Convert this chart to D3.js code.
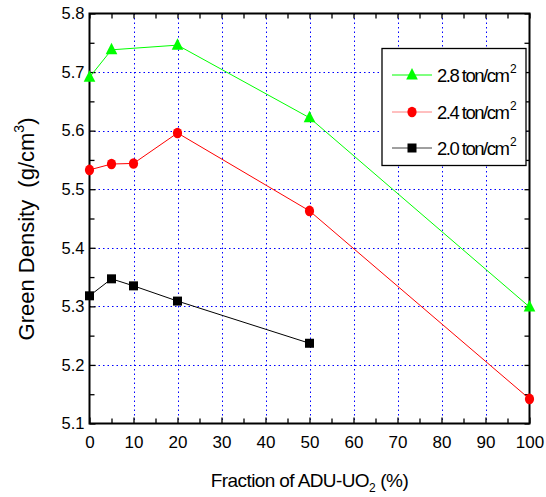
<!DOCTYPE html>
<html>
<head>
<meta charset="utf-8">
<script src="https://cdn.jsdelivr.net/npm/d3@7"></script>
<style>
  html, body { margin: 0; padding: 0; background: #fff; }
  svg { display: block; font-family: "Liberation Sans", Arial, sans-serif; }
</style>
</head>
<body>
<svg id="chart" width="546" height="497"></svg>
<script>
// Fraction of ADU-UO2 (%) at which green density was measured
const fractions = [0, 5, 10, 20, 50, 100];
const fractionsLow = [0, 5, 10, 20, 50];

// Green density (g/cm3) per compaction pressure
const density28 = [5.691, 5.738, null, 5.746, 5.622, 5.299];
const density24 = [5.533, 5.543, 5.544, 5.596, 5.463, 5.142];
const density20 = [5.318, 5.347, 5.335, 5.309, 5.237];

const xTicks = [0, 10, 20, 30, 40, 50, 60, 70, 80, 90, 100];
const yTicks = [5.1, 5.2, 5.3, 5.4, 5.5, 5.6, 5.7, 5.8];

const seriesNames = ["2.8", "2.4", "2.0"];

const svg = d3.select("#chart");
const L = 89.5, R = 529.5, T = 13.5, B = 423.5;

const x = d3.scaleLinear().domain([0, 100]).range([L, R]);
const y = d3.scaleLinear().domain([5.1, 5.8]).range([B, T]);

// dotted grid
const grid = svg.append("g").attr("stroke", "#0000ff").attr("stroke-width", 1)
  .attr("stroke-dasharray", "1.5,3");
grid.selectAll("line.gx").data(xTicks.slice(1, -1)).join("line").attr("class", "gx")
  .attr("x1", d => Math.round(x(d)) + 0.5).attr("x2", d => Math.round(x(d)) + 0.5)
  .attr("y1", T).attr("y2", B);
grid.selectAll("line.gy").data(yTicks.slice(1, -1)).join("line").attr("class", "gy")
  .attr("y1", d => Math.round(y(d)) + 0.5).attr("y2", d => Math.round(y(d)) + 0.5)
  .attr("x1", L).attr("x2", R);

// axes with inward ticks (major and minor)
const xMinor = d3.range(5, 100, 10);
const yMinor = d3.range(5.15, 5.8, 0.1);
function styleAxis(g, size) {
  g.select(".domain").remove();
  g.selectAll("line").attr("stroke", "#000").attr("stroke-width", 1.3);
  g.selectAll("text").attr("fill", "#000").style("font-size", (size || 17) + "px");
}
svg.append("g").attr("transform", `translate(0,${B})`)
  .call(d3.axisBottom(x).tickValues(xTicks).tickSize(-6).tickPadding(12).tickFormat(d3.format("d")))
  .call(g => styleAxis(g, 17));
svg.append("g").attr("transform", `translate(0,${B})`)
  .call(d3.axisBottom(x).tickValues(xMinor).tickSize(-5).tickFormat(""))
  .call(styleAxis);
svg.append("g").attr("transform", `translate(0,${T})`)
  .call(d3.axisTop(x).tickValues(xTicks.concat(xMinor)).tickSize(-5).tickFormat(""))
  .call(styleAxis);
svg.append("g").attr("transform", `translate(${L},0)`)
  .call(d3.axisLeft(y).tickValues(yTicks).tickSize(-6).tickPadding(5).tickFormat(d3.format(".1f")))
  .call(g => styleAxis(g, 16.5));
svg.append("g").attr("transform", `translate(${L},0)`)
  .call(d3.axisLeft(y).tickValues(yMinor).tickSize(-5).tickFormat(""))
  .call(styleAxis);
svg.append("g").attr("transform", `translate(${R},0)`)
  .call(d3.axisRight(y).tickValues(yTicks.concat(yMinor)).tickSize(-5).tickFormat(""))
  .call(styleAxis);

// frame
svg.append("rect").attr("x", L).attr("y", T).attr("width", R - L).attr("height", B - T)
  .attr("fill", "none").attr("stroke", "#000").attr("stroke-width", 2);

const line = d3.line().x(d => x(d[0])).y(d => y(d[1]));
const series = [
  { name: seriesNames[0], xs: fractions, ys: density28, color: "#00ff00", sym: "triangle" },
  { name: seriesNames[1], xs: fractions, ys: density24, color: "#ff0000", sym: "ellipse" },
  { name: seriesNames[2], xs: fractionsLow, ys: density20, color: "#000000", sym: "square" }
];

function drawMarker(g, s, cx, cy) {
  if (s.sym === "ellipse") {
    g.append("ellipse").attr("cx", cx).attr("cy", cy).attr("rx", 4.6).attr("ry", 5.3).attr("fill", s.color);
  } else if (s.sym === "triangle") {
    g.append("path").attr("d", `M${cx},${cy - 7}L${cx + 5.8},${cy + 4.5}L${cx - 5.8},${cy + 4.5}Z`)
      .attr("fill", s.color);
  } else {
    g.append("rect").attr("x", cx - 4.5).attr("y", cy - 4.5).attr("width", 9).attr("height", 9)
      .attr("fill", s.color);
  }
}

series.forEach(s => {
  const valid = s.xs.map((v, i) => [v, s.ys[i]]).filter(p => p[1] != null);
  svg.append("path").datum(valid).attr("d", line)
    .attr("fill", "none").attr("stroke", s.color).attr("stroke-width", 1);
  const g = svg.append("g");
  valid.forEach(p => drawMarker(g, s, x(p[0]), y(p[1])));
});

// legend
const lg = svg.append("g");
lg.append("rect").attr("x", 382).attr("y", 48.5).attr("width", 144).attr("height", 117)
  .attr("fill", "#fff").attr("stroke", "#000").attr("stroke-width", 1.3);
const rowY = [75, 112, 148];
const legendLineColors = ["#00ff00", "#ff8080", "#404040"];
series.forEach((s, i) => {
  const yy = rowY[i];
  lg.append("line").attr("x1", 392).attr("x2", 432).attr("y1", yy).attr("y2", yy)
    .attr("stroke", legendLineColors[i]).attr("stroke-width", 1);
  drawMarker(lg, s, 412, yy);
  const t = lg.append("text").attr("x", 437).attr("y", yy + 6.5)
    .style("font-size", "18.5px").style("letter-spacing", "-1.5px").attr("fill", "#000");
  t.append("tspan").text(s.name + " ton/cm");
  t.append("tspan").attr("dx", 1.5).attr("dy", -9).style("font-size", "12px").style("letter-spacing", "0px").text("2");
});

// axis titles
const yt = svg.append("text").attr("transform", "translate(34,229) rotate(-90)")
  .attr("text-anchor", "middle").style("font-size", "22px").style("white-space", "pre")
  .attr("fill", "#000");
yt.append("tspan").text("Green Density  (g/cm");
yt.append("tspan").attr("dy", -10).style("font-size", "14px").text("3");
yt.append("tspan").attr("dy", 10).text(")");

const xt = svg.append("text").attr("x", 309.5).attr("y", 487)
  .attr("text-anchor", "middle").style("font-size", "19px").style("letter-spacing", "-0.6px")
  .style("white-space", "pre").attr("fill", "#000");
xt.append("tspan").text("Fraction of ADU-UO");
xt.append("tspan").attr("dy", 5).style("font-size", "12px").style("letter-spacing", "0px").text("2");
xt.append("tspan").attr("dy", -5).text(" (%)");
</script>
</body>
</html>
